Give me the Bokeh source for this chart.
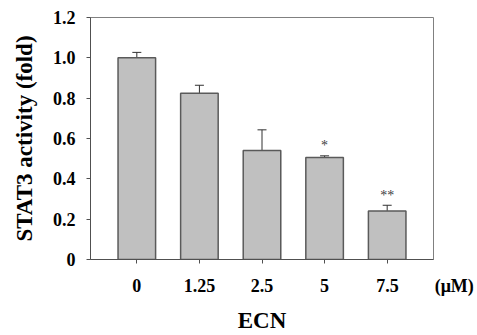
from bokeh.plotting import figure
from bokeh.models import Range1d, FixedTicker, Whisker, TeeHead, ColumnDataSource
from bokeh.embed import file_html
from bokeh.resources import INLINE

# ECN concentrations (uM) and relative STAT3 activity
conc = ["0", "1.25", "2.5", "5", "7.5"]
activity = [1.000, 0.824, 0.541, 0.506, 0.241]
error = [0.027, 0.040, 0.102, 0.008, 0.028]
marks = ["", "", "", "*", "**"]
unit_text = "(\u03bcM)"

y_ticks = [0, 0.2, 0.4, 0.6, 0.8, 1.0, 1.2]
y_tick_labels = ["0", "0.2", "0.4", "0.6", "0.8", "1.0", "1.2"]

FONT = "Liberation Serif"

pos = list(range(len(conc)))
upper = [a + e for a, e in zip(activity, error)]
src = ColumnDataSource(dict(pos=pos, activity=activity, upper=upper, marks=marks))

pad = 0.74
p = figure(width=477, height=335, output_backend="svg", toolbar_location=None,
           x_range=Range1d(-pad, len(conc) - 1 + pad),
           y_range=Range1d(0, 1.2),
           min_border_left=90, min_border_right=44, min_border_top=17,
           min_border_bottom=75)

p.background_fill_color = "white"
p.border_fill_color = "white"
p.outline_line_color = "#808080"
p.outline_line_width = 1
p.grid.visible = False

p.vbar(x="pos", top="activity", width=0.6, source=src,
       fill_color="#c0c0c0", line_color="#5a5a5a", line_width=1.5)

whisk = Whisker(base="pos", lower="activity", upper="upper", source=src,
                line_color="#303030", line_width=1,
                lower_head=None,
                upper_head=TeeHead(size=9, line_color="#303030", line_width=1))
p.add_layout(whisk)

p.text(x="pos", y="upper", text="marks", source=src,
       text_font={"value": FONT}, text_font_size="14px", text_color="#404040",
       text_align="center", text_baseline="middle", y_offset=-10)

# axes
for ax in (p.xaxis[0], p.yaxis[0]):
    ax.axis_line_color = "#505050"
    ax.axis_line_width = 1
    ax.major_tick_line_color = "#505050"
    ax.major_tick_in = 0
    ax.major_tick_out = 4
    ax.minor_tick_line_color = None
    ax.major_label_text_font = FONT
    ax.major_label_text_font_style = "bold"
    ax.major_label_text_font_size = "18px"
    ax.major_label_text_color = "black"
    ax.axis_label_text_font = FONT
    ax.axis_label_text_font_style = "bold"
    ax.axis_label_text_font_size = "23px"
    ax.axis_label_text_color = "black"

p.yaxis.ticker = FixedTicker(ticks=y_ticks)
p.yaxis.major_label_overrides = {t: s for t, s in zip(y_ticks, y_tick_labels)}
p.yaxis.major_label_standoff = 11
p.yaxis.axis_label = "STAT3 activity (fold)"
p.yaxis.axis_label_standoff = 13

# concentration labels; the unit sits on the same line right of the last one,
# with balanced non-breaking padding so "7.5" stays centred on its tick
NBSP, THIN = "\u00a0", "\u2009"
x_labels = list(conc)
x_labels[-1] = NBSP * 16 + THIN + conc[-1] + NBSP * 8 + unit_text
p.xaxis.ticker = FixedTicker(ticks=pos)
p.xaxis.major_label_overrides = {i: s for i, s in zip(pos, x_labels)}
p.xaxis.major_label_standoff = 12
p.xaxis.axis_label = "ECN"
p.xaxis.axis_label_standoff = 9

open("out.html", "w").write(file_html(p, INLINE))
